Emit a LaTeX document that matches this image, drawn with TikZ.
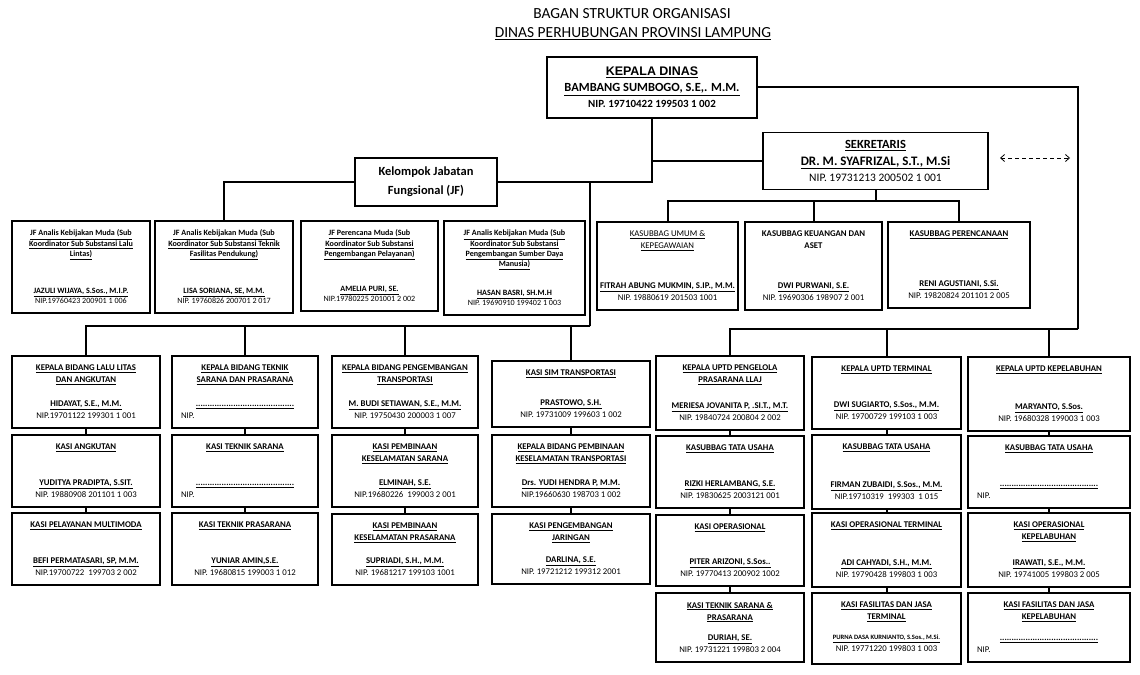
\documentclass[tikz,border=0pt]{standalone}
\usepackage{fontspec}
\setmainfont{Carlito}
\newfontfamily\arialfont{Liberation Sans}
\usetikzlibrary{arrows.meta}

\tikzstyle{unit}=[draw,line width=1.2bp,inner sep=0pt,font=\fontsize{8.8}{12}\selectfont]
\tikzstyle{jfunit}=[unit,font=\fontsize{8.1}{10.3}\selectfont]
\tikzstyle{head}=[draw,line width=1.2bp,inner sep=0pt,align=center]
\tikzstyle{link} = [draw,line width=2bp]
\tikzstyle{coord link} = [draw,line width=0.8bp,dash pattern=on 4bp off 3bp,{Straight Barb[length=4bp,width=7bp]}-{Straight Barb[length=4bp,width=7bp]}]

\newcommand{\hd}[1]{\underline{\textbf{#1}}}
\newcommand{\hu}[1]{\underline{#1}}
\newcommand{\nodots}{\hd{..........................................}}
\newcommand{\leftnip}{\raggedright\hspace*{6bp}NIP.}
% box: name, left, top, right, bottom, title, person, nip
\newcommand{\orgbox}[9][unit]{%
  \node[#1,minimum width={(#5-#3)*1bp},minimum height={(#6-#4)*1bp}] (#2) at ({(#3+#5)/2},{(#4+#6)/2})
  {\parbox[c][\dimexpr #6bp-#4bp-10bp\relax][t]{\dimexpr #5bp-#3bp-6bp\relax}{\vspace*{4bp}\centering #7\par\vfill #8\par #9\par\vspace{4bp}}};}

\begin{document}
\begin{tikzpicture}[x=1bp,y=-1bp]
	\useasboundingbox (0,0) rectangle (1140,675);
	\fill[white] (0,0) rectangle (1140,675);
	\node[anchor=base,font=\fontsize{15.5}{18}\selectfont] (ttl1) at (632,19) {BAGAN STRUKTUR ORGANISASI};
	\node[anchor=base,font=\fontsize{15.5}{18}\selectfont] (ttl2) at (633,38) {\underline{DINAS PERHUBUNGAN PROVINSI LAMPUNG}};

		% top of the chart
		\node[head,minimum width=210bp,minimum height=61bp,font=\fontsize{12}{16}\selectfont] (kadis) at (652,87.5)
		{{\arialfont\bfseries\fontsize{12.5}{16}\selectfont\underline{KEPALA DINAS}}\\
		 {\bfseries\fontsize{12.5}{16}\selectfont\underline{BAMBANG SUMBOGO, S.E,. M.M.}}\\
		 {\bfseries\fontsize{11}{16}\selectfont NIP. 19710422 199503 1 002}};
		\node[head,minimum width=225bp,minimum height=57bp,font=\fontsize{12}{16.5}\selectfont] (sekre) at (875.5,161)
		{{\bfseries\fontsize{12.5}{16}\selectfont\underline{SEKRETARIS}}\\
		 {\bfseries\fontsize{13}{16}\selectfont\underline{DR. M. SYAFRIZAL, S.T., M.Si}}\\
		 {\fontsize{11.5}{16}\selectfont NIP. 19731213 200502 1 001}};
		\node[head,minimum width=142bp,minimum height=48bp,font=\bfseries\fontsize{12.5}{19}\selectfont] (jf) at (426,182)
		{Kelompok Jabatan\\Fungsional (JF)};

		% fungsional
		\orgbox[jfunit]{j1}{12}{221}{150}{313}{\hd{JF Analis Kebijakan Muda (Sub}\\\hd{Koordinator Sub Substansi Lalu}\\\hd{Lintas)}}{\hd{JAZULI WIJAYA, S.Sos., M.I.P.}}{NIP.19760423 200901 1 006}
		\orgbox[jfunit]{j2}{155}{221}{293}{313}{\hd{JF Analis Kebijakan Muda (Sub}\\\hd{Koordinator Sub Substansi Teknik}\\\hd{Fasilitas Pendukung)}}{\hd{LISA SORIANA, SE, M.M.}}{NIP. 19760826 200701 2 017}
		\orgbox[jfunit]{j3}{301}{221}{438}{311}{\hd{JF Perencana Muda (Sub}\\\hd{Koordinator Sub Substansi}\\\hd{Pengembangan Pelayanan)}}{\hd{AMELIA PURI, SE.}}{NIP.19780225 201001 2 002}
		\orgbox[jfunit]{j4}{444}{221}{585}{315}{\hd{JF Analis Kebijakan Muda (Sub}\\\hd{Koordinator Sub Substansi}\\\hd{Pengembangan Sumber Daya}\\\hd{Manusia)}}{\hd{HASAN BASRI, SH.M.H}}{NIP. 19690910 199402 1 003}

		% sekretariat
		\orgbox{s1}{597}{222}{738}{310}{\hu{KASUBBAG UMUM \&}\\\hu{KEPEGAWAIAN}}{\hd{FITRAH ABUNG MUKMIN, S.IP., M.M.}}{NIP. 19880619 201503 1001}
		\orgbox{s2}{745}{222}{882}{310}{\textbf{KASUBBAG KEUANGAN DAN}\\\textbf{ASET}}{\hd{DWI PURWANI, S.E.}}{NIP. 19690306 198907 2 001}
		\orgbox{s3}{888}{222}{1030}{308}{\hd{KASUBBAG PERENCANAAN}}{\hd{RENI AGUSTIANI, S.Si.}}{NIP. 19820824 201101 2 005}

		% bidang and uptd
		\orgbox{a1}{12}{356}{160}{428}{\hd{KEPALA BIDANG LALU LITAS}\\\hd{DAN ANGKUTAN}}{\hd{HIDAYAT, S.E., M.M.}}{NIP.19701122 199301 1 001}
		\orgbox{a2}{172}{356}{318}{428}{\hd{KEPALA BIDANG TEKNIK}\\\hd{SARANA DAN PRASARANA}}{\nodots}{\leftnip}
		\orgbox{a3}{332}{356}{478}{428}{\hd{KEPALA BIDANG PENGEMBANGAN}\\\hd{TRANSPORTASI}}{\hd{M. BUDI SETIAWAN, S.E., M.M.}}{NIP. 19750430 200003 1 007}
		\orgbox{a4}{492}{361}{650}{427}{\hd{KASI SIM TRANSPORTASI}}{\hd{PRASTOWO, S.H.}}{NIP. 19731009 199603 1 002}
		\orgbox{a5}{656}{356}{804}{430}{\hd{KEPALA UPTD PENGELOLA}\\\hd{PRASARANA LLAJ}}{\hd{MERIESA JOVANITA P, .SI.T., M.T.}}{NIP. 19840724 200804 2 002}
		\orgbox{a6}{812}{357}{961}{429}{\hd{KEPALA UPTD TERMINAL}}{\hd{DWI SUGIARTO, S.Sos., M.M.}}{NIP. 19700729 199103 1 003}
		\orgbox{a7}{968}{357}{1130}{431}{\hd{KEPALA UPTD KEPELABUHAN}}{\hd{MARYANTO, S.Sos.}}{NIP. 19680328 199003 1 003}

		\orgbox{b1}{12}{435}{160}{507}{\hd{KASI ANGKUTAN}}{\hd{YUDITYA PRADIPTA, S.SIT.}}{NIP. 19880908 201101 1 003}
		\orgbox{b2}{172}{435}{318}{507}{\hd{KASI TEKNIK SARANA}}{\nodots}{\leftnip}
		\orgbox{b3}{332}{435}{478}{507}{\hd{KASI PEMBINAAN}\\\hd{KESELAMATAN SARANA}}{\hd{ELMINAH, S.E.}}{NIP.19680226\ \ 199003 2 001}
		\orgbox{b4}{492}{435}{650}{507}{\hd{KEPALA BIDANG PEMBINAAN}\\\hd{KESELAMATAN TRANSPORTASI}}{\hd{Drs. YUDI HENDRA P, M.M.}}{NIP.19660630 198703 1 002}
		\orgbox{b5}{656}{436}{804}{508}{\hd{KASUBBAG TATA USAHA}}{\hd{RIZKI HERLAMBANG, S.E.}}{NIP. 19830625 2003121 001}
		\orgbox{b6}{812}{435}{961}{509}{\hd{KASUBBAG TATA USAHA}}{\hd{FIRMAN ZUBAIDI, S.Sos., M.M.}}{NIP.19710319\ \ 199303\ \ 1 015}
		\orgbox{b7}{968}{436}{1130}{508}{\hd{KASUBBAG TATA USAHA}}{\nodots}{\leftnip}

		\orgbox{c1}{12}{513}{160}{585}{\hd{KASI PELAYANAN MULTIMODA}}{\hd{BEFI PERMATASARI, SP, M.M.}}{NIP.19700722\ \ 199703 2 002}
		\orgbox{c2}{172}{513}{318}{585}{\hd{KASI TEKNIK PRASARANA}}{\hd{YUNIAR AMIN,S.E.}}{NIP. 19680815 199003 1 012}
		\orgbox{c3}{332}{514}{478}{585}{\hd{KASI PEMBINAAN}\\\hd{KESELAMATAN PRASARANA}}{\hd{SUPRIADI, S.H., M.M.}}{NIP. 19681217 199103 1001}
		\orgbox{c4}{492}{514}{650}{584}{\hd{KASI PENGEMBANGAN}\\\hd{JARINGAN}}{\hd{DARLINA, S.E.}}{NIP. 19721212 199312 2001}
		\orgbox{c5}{656}{515}{804}{586}{\hd{KASI OPERASIONAL}}{\hd{PITER ARIZONI, S.Sos..}}{NIP. 19770413 200902 1002}
		\orgbox{c6}{812}{513}{961}{587}{\hd{KASI OPERASIONAL TERMINAL}}{\hd{ADI CAHYADI, S.H., M.M.}}{NIP. 19790428 199803 1 003}
		\orgbox{c7}{968}{513}{1130}{587}{\hd{KASI OPERASIONAL}\\\hd{KEPELABUHAN}}{\hd{IRAWATI, S.E., M.M.}}{NIP. 19741005 199803 2 005}

		\orgbox{d5}{656}{593}{804}{662}{\hd{KASI TEKNIK SARANA \&}\\\hd{PRASARANA}}{\hd{DURIAH, SE.}}{NIP. 19731221 199803 2 004}
		\orgbox{d6}{812}{593}{961}{664}{\hd{KASI FASILITAS DAN JASA}\\\hd{TERMINAL}}{{\fontsize{6.6}{9}\selectfont\hd{PURNA DASA KURNIANTO, S.Sos., M.Si.}}}{NIP. 19771220 199803 1 003\vspace{3bp}}
		\orgbox{d7}{968}{593}{1130}{662}{\hd{KASI FASILITAS DAN JASA}\\\hd{KEPELABUHAN}}{\nodots}{\leftnip}

   		 % Connect the units
		\coordinate (jfdrop) at (590,182);
		\coordinate (bidbus) at (590,326);
		\coordinate (uptdbus) at (1078,329);
		\coordinate (sekbus) at (875.5,201);
		\coordinate (coordL) at (1000,158);
		\coordinate (coordR) at (1070,158);
		\path[link] (kadis.south) |- (sekre.west);
		\path[link] (kadis.south) |- (jf.east);
		\path[link] (jf.west) -| (j2.north);
		\path[link] (jfdrop) -- (bidbus);
		\path[link] (kadis.east) -| (uptdbus);
		\path[link] (sekre.south) -- (sekbus);
		\foreach \dest in {a1,a2,a3,a4}
		 \path[link] (bidbus) -| (\dest.north);
		\foreach \dest in {a5,a6,a7}
		 \path[link] (uptdbus) -| (\dest.north);
		\foreach \dest in {s1,s2,s3}
		 \path[link] (sekbus) -| (\dest.north);
		\foreach \source/ \dest in {a1/b1,b1/c1,a2/b2,b2/c2,a3/b3,b3/c3,a4/b4,b4/c4,a5/b5,b5/c5,c5/d5,a6/b6,b6/c6,c6/d6,a7/b7,b7/c7,c7/d7}
		 \path[link] (\source.south) -- (\dest.north);
		\path[coord link] (coordL) -- (coordR);
\end{tikzpicture}
\end{document}
